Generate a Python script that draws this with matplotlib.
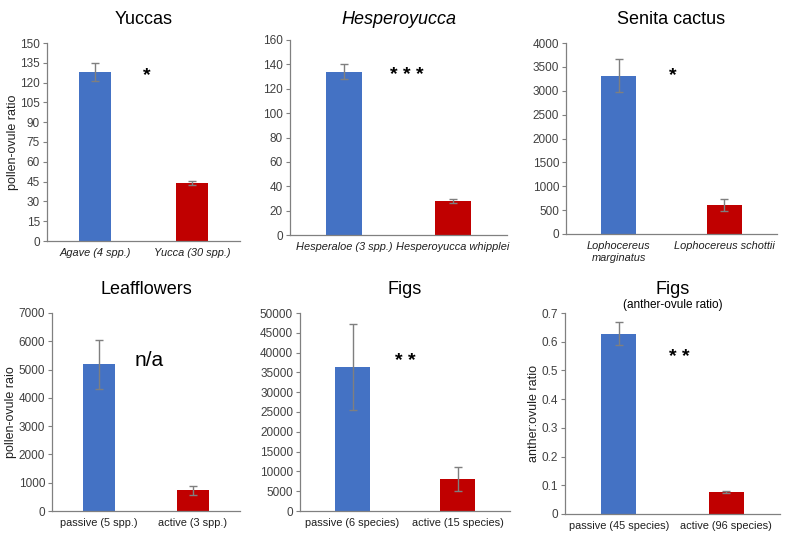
import matplotlib.pyplot as plt

plt.rcParams['font.family'] = ['Liberation Sans', 'DejaVu Sans']

BLUE = '#4472C4'
RED = '#C00000'

# panel data
titles = ['Yuccas', 'Hesperoyucca', 'Senita cactus', 'Leafflowers', 'Figs', 'Figs']
title_italic = [False, True, False, False, False, False]
subtitles = ['', '', '', '', '', '(anther-ovule ratio)']
cat_labels = [
    ['Agave (4 spp.)', 'Yucca (30 spp.)'],
    ['Hesperaloe (3 spp.)', 'Hesperoyucca whipplei'],
    ['Lophocereus\nmarginatus', 'Lophocereus schottii'],
    ['passive (5 spp.)', 'active (3 spp.)'],
    ['passive (6 species)', 'active (15 species)'],
    ['passive (45 species)', 'active (96 species)'],
]
cat_italic = [True, True, True, False, False, False]
means = [
    [128, 44],
    [134, 28],
    [3310, 610],
    [5180, 730],
    [36300, 8000],
    [0.627, 0.077],
]
errors = [
    [6.5, 1.6],
    [6, 1.5],
    [345, 120],
    [880, 150],
    [10800, 3000],
    [0.040, 0.003],
]
yticks = [
    list(range(0, 151, 15)),
    list(range(0, 161, 20)),
    list(range(0, 4001, 500)),
    list(range(0, 7001, 1000)),
    list(range(0, 50001, 5000)),
    [0, 0.1, 0.2, 0.3, 0.4, 0.5, 0.6, 0.7],
]
ytick_labels = [[str(t) for t in yt] for yt in yticks]
ytick_labels[5] = ['0', '0.1', '0.2', '0.3', '0.4', '0.5', '0.6', '0.7']
ylabels = ['pollen-ovule ratio', '', '', 'pollen-ovule raio', '', 'anther:ovule ratio']
sig = ['*', '* * *', '*', 'n/a', '* *', '* *']

# axes boxes in pixels (left, top, right, bottom)
boxes = [
    (47, 43, 240, 241),
    (290, 40, 507, 235),
    (566, 43, 777, 234),
    (52, 313, 240, 511),
    (300, 313, 510, 511),
    (565, 313, 780, 514),
]
# annotation positions in pixels
sig_pos = [(147, 76), (407, 76), (673, 76), (149, 360), (405, 361), (679, 357)]

W, H = 797, 536
fig = plt.figure(figsize=(W / 100, H / 100), dpi=100)

for i in range(6):
    l, t, r, b = boxes[i]
    ax = fig.add_axes([l / W, 1 - b / H, (r - l) / W, (b - t) / H])
    ax.bar([0, 1], means[i], width=0.33, color=[BLUE, RED],
           yerr=errors[i], error_kw=dict(ecolor='#7f7f7f', elinewidth=1, capsize=3, capthick=1))
    ax.set_xlim(-0.5, 1.5)
    ax.set_ylim(yticks[i][0], yticks[i][-1])
    ax.set_yticks(yticks[i])
    ax.set_yticklabels(ytick_labels[i], fontsize=8.5, color='#404040')
    ax.set_xticks([0, 1])
    labs = ax.set_xticklabels(cat_labels[i], fontsize=7.9, color='#202020',
                              style='italic' if cat_italic[i] else 'normal')
    if i == 1:
        labs[1].set_x(1.06)
        labs[0].set_x(-0.05)
    ax.tick_params(axis='x', length=0, pad=5)
    ax.tick_params(axis='y', length=3, width=0.8, color='#808080', pad=2)
    for s in ['top', 'right']:
        ax.spines[s].set_visible(False)
    for s in ['left', 'bottom']:
        ax.spines[s].set_color('#808080')
        ax.spines[s].set_linewidth(0.9)
    if ylabels[i]:
        ax.set_ylabel(ylabels[i], fontsize=9, color='#202020', labelpad=1)

    cx = (l + r) / 2 / W
    fig.text(cx, 1 - 20 / H if i < 3 else 1 - 290 / H, titles[i], ha='center', va='center',
             fontsize=13, style='italic' if title_italic[i] else 'normal')
    if subtitles[i]:
        fig.text(cx, 1 - 305 / H, subtitles[i], ha='center', va='center', fontsize=8.5)

    sx, sy = sig_pos[i]
    if sig[i] == 'n/a':
        fig.text(sx / W, 1 - sy / H, sig[i], ha='center', va='center', fontsize=15)
    else:
        fig.text(sx / W, 1 - sy / H, sig[i], ha='center', va='center', fontsize=14,
                 fontweight='bold')

fig.savefig('out.png', dpi=100)
